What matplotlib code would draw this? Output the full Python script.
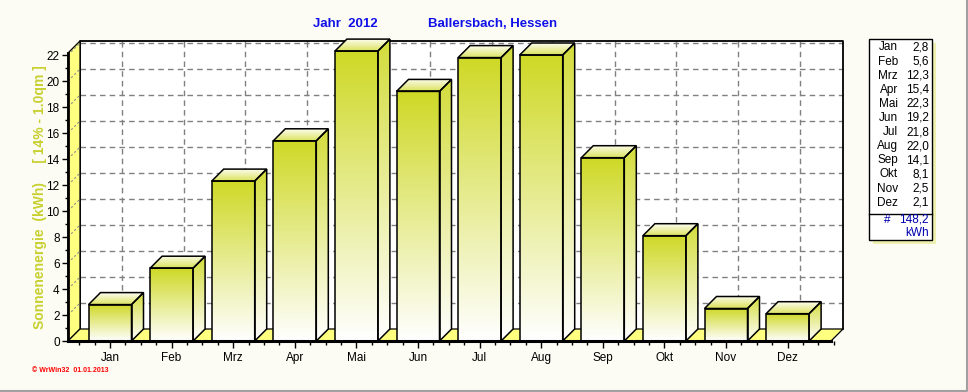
import numpy as np
import matplotlib
matplotlib.use('Agg')
import matplotlib.pyplot as plt
from matplotlib.patches import Polygon, Rectangle
from matplotlib.lines import Line2D

# data
months = ['Jan', 'Feb', 'Mrz', 'Apr', 'Mai', 'Jun', 'Jul', 'Aug', 'Sep', 'Okt', 'Nov', 'Dez']
values = [2.8, 5.6, 12.3, 15.4, 22.3, 19.2, 21.8, 22.0, 14.1, 8.1, 2.5, 2.1]
value_labels = ['2,8', '5,6', '12,3', '15,4', '22,3', '19,2', '21,8', '22,0', '14,1', '8,1', '2,5', '2,1']
total_label = '148,2'
unit_label = 'kWh'
yticks = list(range(0, 23, 2))

plt.rcParams['font.family'] = ['Liberation Sans', 'DejaVu Sans']

W, H = 968, 392
BG = '#fcfcf4'
WALL = '#ffff80'
BAR = np.array([0.81, 0.85, 0.15])
WHITE = np.array([1.0, 1.0, 1.0])

fig = plt.figure(figsize=(W / 100, H / 100), dpi=100)
fig.patch.set_facecolor(BG)

def fx(p):
    return p / W

def fy(p):
    return 1 - p / H

# pixel geometry of the plot
PXM = 61.6      # px per month
PXV = 13.0      # px per kWh
X_MID0 = 110.0  # px of Jan centre
Y_ZERO = 341.0  # px of value 0
AX0, AX1, AY0, AY1 = 55, 855, 28, 352

ax = fig.add_axes([fx(AX0), fy(AY1), (AX1 - AX0) / W, (AY1 - AY0) / H])
ax.set_facecolor('none')
ax.set_xlim((AX0 - X_MID0) / PXM, (AX1 - X_MID0) / PXM)
ax.set_ylim((Y_ZERO - AY1) / PXV, (Y_ZERO - AY0) / PXV)

xl = (68 - X_MID0) / PXM
xr = (843 - X_MID0) / PXM
dx = 12 / PXM
dy = 12 / PXV
ytop = (Y_ZERO - 41) / PXV
bw = 43 / PXM

# back wall
ax.add_patch(Rectangle((xl + dx, dy), xr - xl - dx, ytop - dy, fc='white', ec='none', zorder=0))
for v in yticks[1:]:
    ax.plot([xl + dx, xr], [v + dy, v + dy], color='#808080', lw=1, ls=(0, (4, 3)), zorder=0.5)
for i in range(len(months)):
    ax.plot([i + dx, i + dx], [dy, ytop], color='#808080', lw=1, ls=(0, (4, 3)), zorder=0.5)
ax.plot([xl + dx, xl + dx, xr, xr], [dy, ytop, ytop, dy], color='k', lw=1.3, zorder=1)

# left wall and floor
ax.add_patch(Polygon([(xl, 0), (xl + dx, dy), (xl + dx, ytop), (xl, ytop - dy)],
                     fc=WALL, ec='k', lw=0.9, zorder=1))
for v in yticks[1:]:
    ax.plot([xl, xl + dx], [v, v + dy], color='#909090', lw=0.8, ls=(0, (2, 2)), zorder=1.5)
ax.add_patch(Polygon([(xl, 0), (xr - dx, 0), (xr, dy), (xl + dx, dy)],
                     fc=WALL, ec='k', lw=0.9, zorder=2))


def grad_face(pts, extent, c_lo, c_hi):
    t = np.linspace(0, 1, 80)
    cols = (1 - t)[:, None] * c_lo + t[:, None] * c_hi
    im = ax.imshow(cols[:, None, :], extent=extent, origin='lower', aspect='auto',
                   interpolation='bilinear', zorder=3)
    clip = Polygon(pts, closed=True, transform=ax.transData, fc='none', ec='none')
    im.set_clip_path(clip)
    ax.add_patch(Polygon(pts, closed=True, fc='none', ec='k', lw=1.1, zorder=4))


for i, v in enumerate(values):
    x0, x1 = i - bw / 2, i + bw / 2
    # side
    side = [(x1, 0), (x1 + dx, dy), (x1 + dx, v + dy), (x1, v)]
    grad_face(side, [x1, x1 + dx, 0, v + dy], WHITE, BAR * 0.9 + 0.1)
    # front
    front = [(x0, 0), (x1, 0), (x1, v), (x0, v)]
    grad_face(front, [x0, x1, 0, v], WHITE, BAR)
    # top
    top = [(x0, v), (x1, v), (x1 + dx, v + dy), (x0 + dx, v + dy)]
    grad_face(top, [x0, x1 + dx, v, v + dy], BAR * 0.75 + 0.25, np.array([0.99, 0.99, 0.93]))

# axes / spines
for s in ['top', 'right']:
    ax.spines[s].set_visible(False)
ax.spines['left'].set_position(('data', xl))
ax.spines['left'].set_bounds(0, ytop - dy)
ax.spines['left'].set_linewidth(2)
ax.spines['left'].set_zorder(5)
ax.spines['bottom'].set_position(('data', 0))
ax.spines['bottom'].set_bounds(xl, xr - dx)
ax.spines['bottom'].set_linewidth(2.2)
ax.spines['bottom'].set_zorder(5)

ax.set_yticks(yticks)
ax.set_yticks([v + 1 for v in yticks[:-1]], minor=True)
ax.set_xticks(range(len(months)))
ax.set_xticklabels(months)
ax.set_xticks([q for q in np.arange(-0.5, 11.8, 0.25) if abs(q - round(q)) > 0.01], minor=True)
ax.tick_params(axis='y', which='major', length=4, width=1, pad=2, labelsize=8.5)
ax.tick_params(axis='y', which='minor', length=2.5, width=1)
ax.tick_params(axis='x', which='major', length=5, width=1, pad=3, labelsize=8.5)
ax.tick_params(axis='x', which='minor', length=3, width=1)

# texts
fig.text(fx(345), fy(24), 'Jahr  2012', color='#1010e8', fontsize=9.5, fontweight='bold',
         ha='center', va='center')
fig.text(fx(493), fy(24), 'Ballersbach, Hessen', color='#1010e8', fontsize=9.5,
         fontweight='bold', ha='center', va='center')
fig.text(fx(40), fy(197), 'Sonnenenergie  (kWh)     [ 14% - 1.0qm ]', color='#c8d030',
         fontsize=10, fontweight='bold', rotation=90, ha='center', va='center')
fig.text(fx(32), fy(371), '\u00a9 WrWin32  01.01.2013', color='#ff0000', fontsize=5,
         fontweight='bold', ha='left', va='center')

# legend box
bx0, by0, bx1, by1 = 869, 39, 932, 240
fig.add_artist(Rectangle((fx(bx0 + 4), fy(by1 + 4)), (bx1 - bx0) / W, (by1 - by0) / H,
                         transform=fig.transFigure, fc='#eef0b0', ec='none'))
fig.add_artist(Rectangle((fx(bx0), fy(by1)), (bx1 - bx0) / W, (by1 - by0) / H,
                         transform=fig.transFigure, fc='white', ec='k', lw=1))
for i, (m, lab) in enumerate(zip(months, value_labels)):
    yy = fy(47.5 + 14.1 * i)
    fig.text(fx(898), yy, m, fontsize=8.5, ha='right', va='center')
    fig.text(fx(929), yy, lab, fontsize=8.5, ha='right', va='center')
fig.add_artist(Line2D([fx(bx0), fx(bx1)], [fy(214), fy(214)], color='k', lw=1,
                      transform=fig.transFigure))
fig.text(fx(887), fy(220), '#', fontsize=8.5, color='#0000b0', ha='center', va='center')
fig.text(fx(929), fy(220), total_label, fontsize=8.5, color='#0000b0', ha='right', va='center')
fig.text(fx(929), fy(233), unit_label, fontsize=8.5, color='#0000b0', ha='right', va='center')

# window frame
fig.add_artist(Line2D([0, fx(966.5), fx(966.5)], [fy(390.5), fy(390.5), 1], color='#a0a0a0',
                      lw=1.5, transform=fig.transFigure))

fig.savefig('out.png', dpi=100, facecolor=BG)
